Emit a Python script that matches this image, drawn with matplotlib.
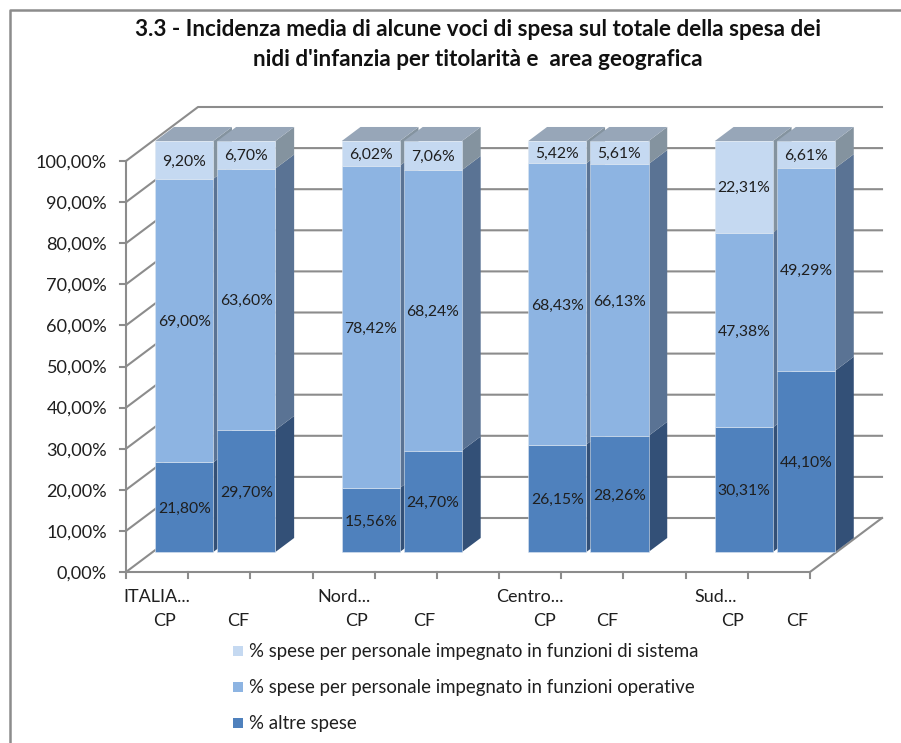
import matplotlib
matplotlib.use("Agg")
import matplotlib.pyplot as plt
from matplotlib.patches import Polygon

plt.rcParams['font.family'] = ['Lato', 'DejaVu Sans']

W, H = 901, 743

title_lines = ["3.3 - Incidenza media di alcune voci di spesa sul totale della spesa dei",
               "nidi d'infanzia per titolarità e  area geografica"]
groups = ["ITALIA...", "Nord...", "Centro...", "Sud..."]
bar_labels = ["CP", "CF", "CP", "CF", "CP", "CF", "CP", "CF"]
slots = [0, 1, 3, 4, 6, 7, 9, 10]
altre = [21.80, 29.70, 15.56, 24.70, 26.15, 28.26, 30.31, 44.10]
operative = [69.00, 63.60, 78.42, 68.24, 68.43, 66.13, 47.38, 49.29]
sistema = [9.20, 6.70, 6.02, 7.06, 5.42, 5.61, 22.31, 6.61]
series_names = ["% altre spese",
                "% spese per personale impegnato in funzioni operative",
                "% spese per personale impegnato in funzioni di sistema"]
yticks = [0, 10, 20, 30, 40, 50, 60, 70, 80, 90, 100]

front = ["#4F81BD", "#8DB4E2", "#C5D9F1"]
side = ["#335077", "#5A7394", "#84939F"]
top_col = "#97A6B8"
axis_col = "#8C8C8C"
text_col = "#1F1F1F"

fig = plt.figure(figsize=(W / 100, H / 100), dpi=100)
fig.patch.set_facecolor("white")

# chart frame: left and top edges only are visible in the crop
fig.add_artist(plt.Line2D([9.5 / W, 9.5 / W, 1], [0, 1 - 10 / H, 1 - 10 / H],
                          color="#8C8C8C", lw=1.8))

x0, x1, y0, y100 = 126, 810, 572, 161
ax = fig.add_axes([x0 / W, 1 - y0 / H, (x1 - x0) / W, (y0 - y100) / H])
ax.set_xlim(0, 11)
ax.set_ylim(0, 100)
ax.axis("off")

PX_X = (x1 - x0) / 11
PX_Y = (y0 - y100) / 100
DX = 72 / PX_X
DY = 54 / PX_Y


def proj(x, v, d):
    return (x + d * DX, v + d * DY)


def line(xs, ys, **kw):
    ax.plot(xs, ys, clip_on=False, solid_capstyle="projecting", **kw)


for v in yticks:
    a = proj(0, v, 0)
    b = proj(0, v, 1)
    c = proj(11, v, 1)
    line([a[0], b[0], c[0]], [a[1], b[1], c[1]], color=axis_col, lw=1.5, zorder=1)
f = proj(11, 0, 1)
line([0, 11, f[0]], [0, 0, f[1]], color=axis_col, lw=1.5, zorder=1)
line([0, 0], [0, 100], color=axis_col, lw=1.5, zorder=1)

for v in yticks:
    ax.plot([-6 / PX_X, 0], [v, v], color=axis_col, lw=1.5, clip_on=False, zorder=1)
    ax.text(-19 / PX_X, v - 1.5 / PX_Y, f"{v},00%", ha="right", va="center", fontsize=13.1,
            color=text_col, clip_on=False)
for k in range(12):
    ax.plot([k, k], [0, -6 / PX_Y], color=axis_col, lw=1.5, clip_on=False, zorder=1)

d0, d1 = 0.37, 0.63
off, w = 0.47, 0.933
for i, s in enumerate(slots):
    base = 0
    xl = s + off - d0 * DX
    xr = xl + w
    vals = [altre[i], operative[i], sistema[i]]
    for j, val in enumerate(vals):
        top = base + val
        z = 3 + i * 0.1
        ax.add_patch(Polygon([proj(xr, base, d0), proj(xr, base, d1), proj(xr, top, d1), proj(xr, top, d0)],
                             closed=True, fc=side[j], ec="none", zorder=z, clip_on=False))
        ax.add_patch(Polygon([proj(xl, base, d0), proj(xr, base, d0), proj(xr, top, d0), proj(xl, top, d0)],
                             closed=True, fc=front[j], ec="#DCE6F1", lw=0.4, zorder=z + 0.01, clip_on=False))
        cx, cy = proj((xl + xr) / 2, (base + top) / 2, d0)
        ax.text(cx, cy - 1.5 / PX_Y, f"{val:.2f}%".replace(".", ","), ha="center", va="center", fontsize=11.3,
                color=text_col, zorder=z + 0.02, clip_on=False)
        base = top
    ax.add_patch(Polygon([proj(xl, base, d0), proj(xr, base, d0), proj(xr, base, d1), proj(xl, base, d1)],
                         closed=True, fc=top_col, ec="none", zorder=3 + i * 0.1 + 0.01, clip_on=False))


def tx(px, py, s, **kw):
    fig.text(px / W, 1 - py / H, s, **kw)


label_px = [164, 238, 357, 424, 545, 607, 732, 797]
for px, s in zip(label_px, bar_labels):
    tx(px, 621, s, ha="center", va="center", fontsize=13, color=text_col)
for px, s in zip([157, 344, 530, 716], groups):
    tx(px, 597, s, ha="center", va="center", fontsize=13, color=text_col)

tx(478, 29, title_lines[0], ha="center", va="center", fontsize=16.2, fontweight="bold", color="#111111")
tx(478, 59, title_lines[1], ha="center", va="center", fontsize=16.2, fontweight="bold", color="#111111")

for j, py in zip([2, 1, 0], [651, 687, 723]):
    fig.patches.append(plt.Rectangle((233 / W, 1 - (py + 5) / H), 10 / W, 10 / H,
                                     transform=fig.transFigure, fc=front[j], ec="none"))
    tx(249, py + 0.5, series_names[j], ha="left", va="center", fontsize=13.4, color=text_col)

fig.savefig("out.png", dpi=100, facecolor="white")
